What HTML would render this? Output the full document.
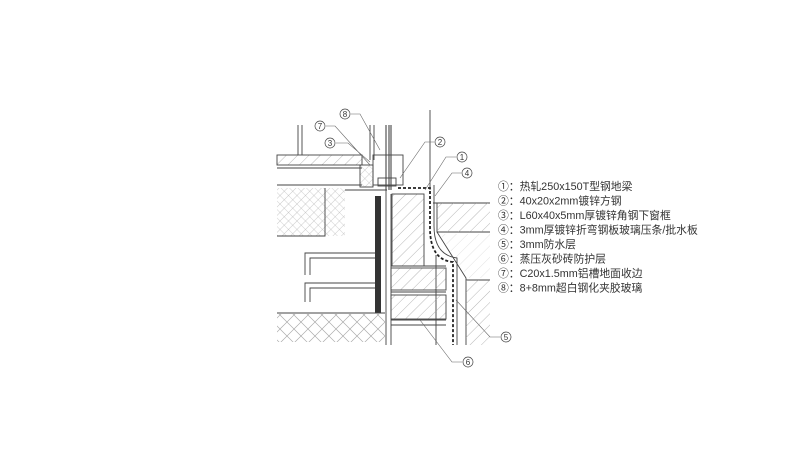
<!DOCTYPE html>
<html><head><meta charset="utf-8"><style>
html,body{margin:0;padding:0;background:#fff;width:800px;height:462px;overflow:hidden}
svg{display:block}
text{font-family:"Liberation Sans","Noto Sans CJK SC",sans-serif;fill:#333}
</style></head><body>
<svg width="800" height="462" viewBox="0 0 800 462">
<defs>
<pattern id="h" width="8" height="8" patternUnits="userSpaceOnUse" patternTransform="rotate(45)"><line x1="0" y1="0" x2="0" y2="8" stroke="#999" stroke-width="0.7"/></pattern>
<pattern id="x" width="6" height="6" patternUnits="userSpaceOnUse" patternTransform="rotate(45)"><path d="M0 0V6M0 0H6" stroke="#aaa" stroke-width="0.6"/></pattern>
<pattern id="hb" width="14" height="14" patternUnits="userSpaceOnUse"><path d="M0 7L7 0M7 14L14 7M7 0L14 7M0 7L7 14" stroke="#aaa" stroke-width="0.7" fill="none"/></pattern>
</defs>
<g stroke="#444" stroke-width="0.9" fill="none">
<path d="M298 125V155M302 125V155M370 125V160M374 125V160M430 110V190"/>
<path d="M386 125V190M389 125V190M391 125V190" stroke="#333" stroke-width="1"/>
<rect x="373" y="155" width="30" height="30"/>
<rect x="378" y="178" width="18" height="8"/>
<rect x="277" y="155" width="85" height="10" fill="url(#h)"/>
<line x1="277" y1="168" x2="362" y2="168"/>
<rect x="360" y="165" width="13" height="22" fill="url(#x)"/>
<line x1="277" y1="185" x2="362" y2="185"/>
<path d="M345 190H387"/>
<rect x="277" y="188" width="68" height="48" fill="url(#x)" stroke="none"/>
<path d="M325 188V236H277"/>
<path d="M305 275V253H375M310 275V258H375M305 302V283H375M310 302V288H375"/>
<rect x="375" y="196" width="6" height="117" fill="#333" stroke="none"/>
<path d="M277 313H385"/>
<rect x="277" y="314" width="108" height="28" fill="url(#hb)" stroke="none"/>
<path d="M386 190V345M391 194V345M436 255V345"/>
<rect x="392" y="194" width="32" height="72" fill="url(#h)"/>
<rect x="391" y="268" width="55" height="22" fill="url(#h)"/>
<rect x="391" y="295" width="55" height="24" fill="url(#h)"/>
<path d="M391 266H446M391 292H446M391 320H446M391 325H446"/>
<path d="M398 188H430V228Q430 260 453 262V345" stroke="#222" stroke-width="1.8" stroke-dasharray="3 2"/>
<path d="M434 185V226Q434 255 457 258V345"/>
<path d="M433 203H490M437 203V232H490M437 232L466 278V345M466 280H490"/>
<polygon points="437,203 490,203 490,232 437,232" fill="url(#h)" stroke="none"/>
<polygon points="466,280 490,280 490,345 466,345" fill="url(#h)" stroke="none"/>
<polygon points="440,234 490,234 490,278 468,278" fill="url(#h)" stroke="none" opacity="0.4"/>
</g>
<g stroke="#666" stroke-width="0.6" fill="none">
<path d="M351 114H360L380 150M326 126H335L370 165M336 143H348L370 162M434 142H425L400 178M456 157H446L425 190M461 173H452L435 196M500 337H490L456 300M462 362H452L420 320"/>
</g>
<g font-size="8" text-anchor="middle">
<circle cx="345" cy="114" r="5" fill="#fff" stroke="#444" stroke-width="0.7"/><text x="345" y="117">8</text>
<circle cx="320" cy="126" r="5" fill="#fff" stroke="#444" stroke-width="0.7"/><text x="320" y="129">7</text>
<circle cx="330" cy="143" r="5" fill="#fff" stroke="#444" stroke-width="0.7"/><text x="330" y="146">3</text>
<circle cx="440" cy="142" r="5" fill="#fff" stroke="#444" stroke-width="0.7"/><text x="440" y="145">2</text>
<circle cx="462" cy="157" r="5" fill="#fff" stroke="#444" stroke-width="0.7"/><text x="462" y="160">1</text>
<circle cx="467" cy="173" r="5" fill="#fff" stroke="#444" stroke-width="0.7"/><text x="467" y="176">4</text>
<circle cx="506" cy="337" r="5" fill="#fff" stroke="#444" stroke-width="0.7"/><text x="506" y="340">5</text>
<circle cx="468" cy="362" r="5" fill="#fff" stroke="#444" stroke-width="0.7"/><text x="468" y="365">6</text>
</g>
<g font-size="10.8">
<text x="498" y="190">①：热轧250x150T型钢地梁</text>
<text x="498" y="204.5">②：40x20x2mm镀锌方钢</text>
<text x="498" y="219">③：L60x40x5mm厚镀锌角钢下窗框</text>
<text x="498" y="233.5">④：3mm厚镀锌折弯钢板玻璃压条/批水板</text>
<text x="498" y="248">⑤：3mm防水层</text>
<text x="498" y="262.5">⑥：蒸压灰砂砖防护层</text>
<text x="498" y="277">⑦：C20x1.5mm铝槽地面收边</text>
<text x="498" y="291.5">⑧：8+8mm超白钢化夹胶玻璃</text>
</g>
</svg>
</body></html>
